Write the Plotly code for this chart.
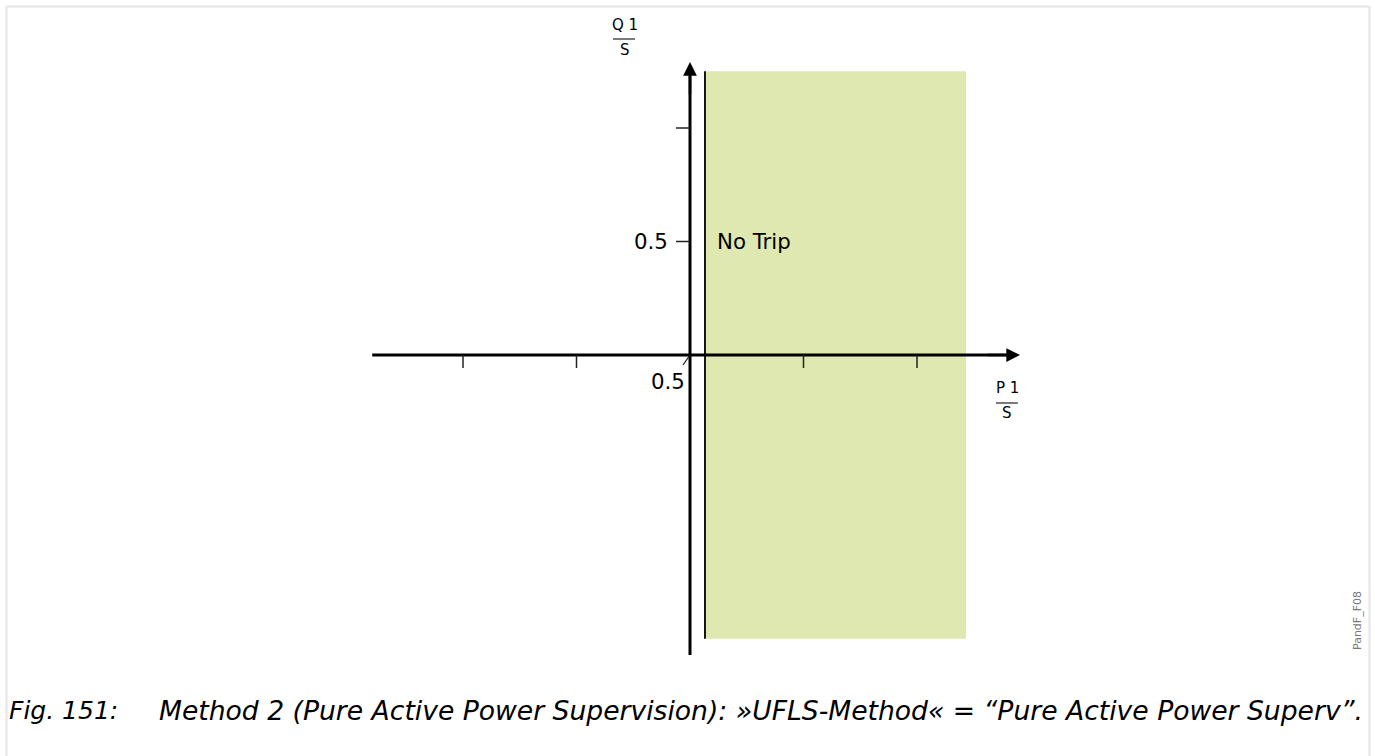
import plotly.graph_objects as go

# ---- data (chart units: per-unit P/S, Q/S) ----
x_ticks = [-1.0, -0.5, 0.5, 1.0]
y_ticks = [0.5, 1.0]
y_tick_labels = ["0.5", ""]   # only the 0.5 tick on the Q axis is labelled
region_x = [0.066, 1.216]     # "No Trip" zone P/S limits
region_y = [-1.25, 1.25]      # zone Q/S limits
x_axis_span = [-1.40, 1.454]
y_axis_span = [-1.322, 1.291]
region_label = "No Trip"
caption_num = "Fig. 151:"
caption_text = ("Method 2 (Pure Active Power Supervision): "
                "»UFLS-Method« = “Pure Active Power Superv”.")
figure_id = "PandF_F08"

W, H = 1375, 756
ox, oy, scale = 690, 355, 227.0  # origin pixel & px per unit
xr = [-ox / scale, (W - ox) / scale]
yr = [(oy - H) / scale, oy / scale]

fig = go.Figure()

# green No-Trip region
fig.add_trace(go.Scatter(
    x=[region_x[0], region_x[1], region_x[1], region_x[0], region_x[0]],
    y=[region_y[0], region_y[0], region_y[1], region_y[1], region_y[0]],
    fill="toself", fillcolor="#dfe8b0", line=dict(width=0), mode="lines",
    hoverinfo="skip", showlegend=False))
# boundary line at left edge of region
fig.add_trace(go.Scatter(x=[region_x[0], region_x[0]], y=region_y, mode="lines",
                         line=dict(color="black", width=1.8), showlegend=False, hoverinfo="skip"))

shapes = []
# axes
shapes.append(dict(type="line", xref="x", yref="y", x0=x_axis_span[0], x1=x_axis_span[1] - 0.03,
                   y0=0, y1=0, line=dict(color="black", width=3)))
shapes.append(dict(type="line", xref="x", yref="y", x0=0, x1=0,
                   y0=y_axis_span[0], y1=y_axis_span[1] - 0.03, line=dict(color="black", width=3)))
# ticks
tlen = 13 / scale
for t in x_ticks:
    shapes.append(dict(type="line", xref="x", yref="y", x0=t, x1=t, y0=0, y1=-tlen,
                       line=dict(color="#222", width=1.5)))
for t in y_ticks:
    shapes.append(dict(type="line", xref="x", yref="y", x0=-14 / scale, x1=0, y0=t, y1=t,
                       line=dict(color="#222", width=1.5)))
# small slash at origin
shapes.append(dict(type="line", xref="x", yref="y", x0=0, x1=-7 / scale, y0=0, y1=-10 / scale,
                   line=dict(color="#222", width=1.3)))
# fraction bars
shapes.append(dict(type="line", xref="x", yref="paper", x0=-77 / scale, x1=-55 / scale,
                   y0=1 - 39 / H, y1=1 - 39 / H, line=dict(color="#222", width=1.2)))
shapes.append(dict(type="line", xref="x", yref="paper", x0=306 / scale, x1=328 / scale,
                   y0=1 - 403 / H, y1=1 - 403 / H, line=dict(color="#222", width=1.2)))
# frame
shapes.append(dict(type="line", xref="paper", yref="paper", x0=6.5 / W, x1=1369.5 / W,
                   y0=1 - 6.5 / H, y1=1 - 6.5 / H, line=dict(color="#e4e4e4", width=2)))
shapes.append(dict(type="line", xref="paper", yref="paper", x0=6.5 / W, x1=6.5 / W,
                   y0=0, y1=1 - 6.5 / H, line=dict(color="#e4e4e4", width=2)))
shapes.append(dict(type="line", xref="paper", yref="paper", x0=1369.5 / W, x1=1369.5 / W,
                   y0=0, y1=1 - 6.5 / H, line=dict(color="#e4e4e4", width=2)))

ann = []
# arrowheads
ann.append(dict(x=x_axis_span[1], y=0, ax=x_axis_span[1] - 0.15, ay=0, xref="x", yref="y",
                axref="x", ayref="y", showarrow=True, arrowhead=2, arrowsize=1.1,
                arrowwidth=2.5, arrowcolor="black", text=""))
ann.append(dict(x=0, y=y_axis_span[1], ax=0, ay=y_axis_span[1] - 0.15, xref="x", yref="y",
                axref="x", ayref="y", showarrow=True, arrowhead=2, arrowsize=1.1,
                arrowwidth=2.5, arrowcolor="black", text=""))
font = dict(family="DejaVu Sans", color="black")
# tick labels
for t, lab in zip(y_ticks, y_tick_labels):
    if lab:
        ann.append(dict(x=-20 / scale, y=t, xref="x", yref="y", text=lab, showarrow=False,
                        xanchor="right", yanchor="middle", font=dict(size=21.3, **font)))
ann.append(dict(x=-3 / scale, y=-26 / scale, xref="x", yref="y", text="0.5", showarrow=False,
                xanchor="right", yanchor="middle", font=dict(size=21.3, **font)))
# region label
ann.append(dict(x=25 / scale, y=0.5, xref="x", yref="y", text=region_label, showarrow=False,
                xanchor="left", yanchor="middle", font=dict(size=21.3, **font)))
# axis titles (fractions)
ann.append(dict(x=-65 / scale, y=1 - 25 / H, xref="x", yref="paper", text="Q 1", showarrow=False,
                xanchor="center", yanchor="middle", font=dict(size=15, **font)))
ann.append(dict(x=-65 / scale, y=1 - 50 / H, xref="x", yref="paper", text="S", showarrow=False,
                xanchor="center", yanchor="middle", font=dict(size=15, **font)))
ann.append(dict(x=317 / scale, y=1 - 388 / H, xref="x", yref="paper", text="P 1", showarrow=False,
                xanchor="center", yanchor="middle", font=dict(size=15, **font)))
ann.append(dict(x=317 / scale, y=1 - 413 / H, xref="x", yref="paper", text="S", showarrow=False,
                xanchor="center", yanchor="middle", font=dict(size=15, **font)))
# figure id
ann.append(dict(x=1357 / W, y=1 - 621 / H, xref="paper", yref="paper", text=figure_id,
                showarrow=False, textangle=-90, xanchor="center", yanchor="middle",
                font=dict(family="DejaVu Sans", size=11, color="#777")))
# caption
ann.append(dict(x=7 / W, y=1 - 710 / H, xref="paper", yref="paper", text="<i>" + caption_num + "</i>",
                showarrow=False, xanchor="left", yanchor="middle",
                font=dict(size=25, **font)))
ann.append(dict(x=157 / W, y=1 - 710 / H, xref="paper", yref="paper", text="<i>" + caption_text + "</i>",
                showarrow=False, xanchor="left", yanchor="middle",
                font=dict(size=26.6, **font)))

fig.update_layout(
    width=W, height=H, margin=dict(l=0, r=0, t=0, b=0),
    paper_bgcolor="white", plot_bgcolor="white",
    xaxis=dict(range=xr, visible=False, fixedrange=True),
    yaxis=dict(range=yr, visible=False, fixedrange=True),
    shapes=shapes, annotations=ann, showlegend=False)

fig.write_html("out.html", config={"displayModeBar": False},
               post_script="document.body.style.margin='0px';document.body.style.overflow='hidden';")
